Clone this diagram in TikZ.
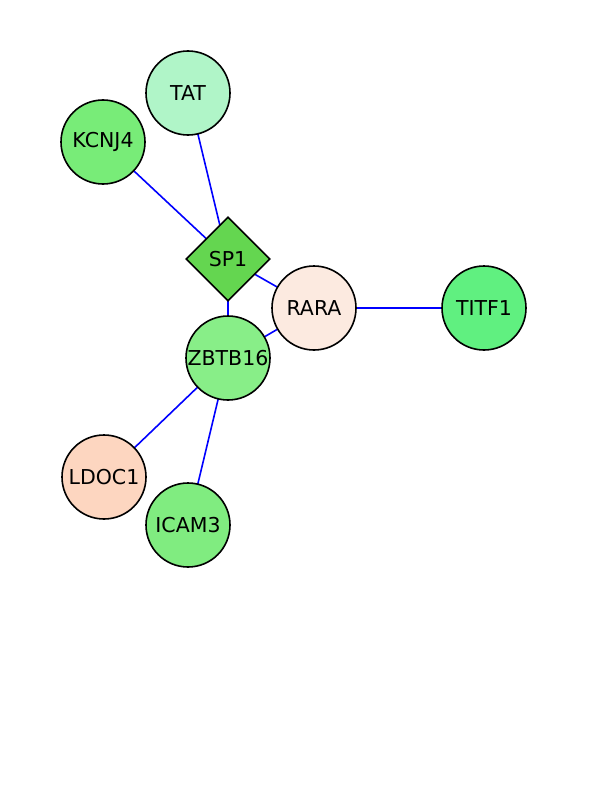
\documentclass[tikz,border=0pt]{standalone}
\usepackage{fontspec}
\setmainfont{DejaVu Sans}
\usetikzlibrary{shapes.geometric}
\definecolor{cTAT}{RGB}{176,245,200}
\definecolor{cKCNJ}{RGB}{120,236,120}
\definecolor{cSP}{RGB}{100,214,80}
\definecolor{cRARA}{RGB}{252,234,224}
\definecolor{cZB}{RGB}{136,238,136}
\definecolor{cLD}{RGB}{253,214,192}
\definecolor{cIC}{RGB}{128,236,128}
\definecolor{cTI}{RGB}{96,240,128}
\tikzset{
  gene/.style={circle, draw=black, line width=1.6pt, minimum size=84pt, inner sep=0pt, font=\fontsize{20.5}{24}\selectfont},
  tf/.style={diamond, draw=black, line width=1.6pt, minimum size=84pt, inner sep=0pt, font=\fontsize{20.5}{24}\selectfont},
  link/.style={draw=blue, line width=1.6pt}
}
\begin{document}
\begin{tikzpicture}[x=1pt,y=-1pt]
\useasboundingbox (0,0) rectangle (612,792);
\fill[white] (0,0) rectangle (612,792);
\coordinate (pTAT) at (188,93);
\coordinate (pKC) at (103,142);
\coordinate (pSP) at (228,259);
\coordinate (pRA) at (314,308);
\coordinate (pTI) at (484,308);
\coordinate (pZB) at (228,358);
\coordinate (pLD) at (104,477);
\coordinate (pIC) at (188,525);
\draw[link] (pTAT) -- (pSP);
\draw[link] (pKC) -- (pSP);
\draw[link] (pSP) -- (pRA);
\draw[link] (pSP) -- (pZB);
\draw[link] (pRA) -- (pZB);
\draw[link] (pRA) -- (pTI);
\draw[link] (pZB) -- (pLD);
\draw[link] (pZB) -- (pIC);
\node[gene, fill=cTAT] (TAT) at (pTAT) {TAT};
\node[gene, fill=cKCNJ] (KCNJ4) at (pKC) {KCNJ4};
\node[tf, fill=cSP] (SP1) at (pSP) {SP1};
\node[gene, fill=cRARA] (RARA) at (pRA) {RARA};
\node[gene, fill=cTI] (TITF1) at (pTI) {TITF1};
\node[gene, fill=cZB] (ZBTB16) at (pZB) {ZBTB16};
\node[gene, fill=cLD] (LDOC1) at (pLD) {LDOC1};
\node[gene, fill=cIC] (ICAM3) at (pIC) {ICAM3};
\end{tikzpicture}
\end{document}
